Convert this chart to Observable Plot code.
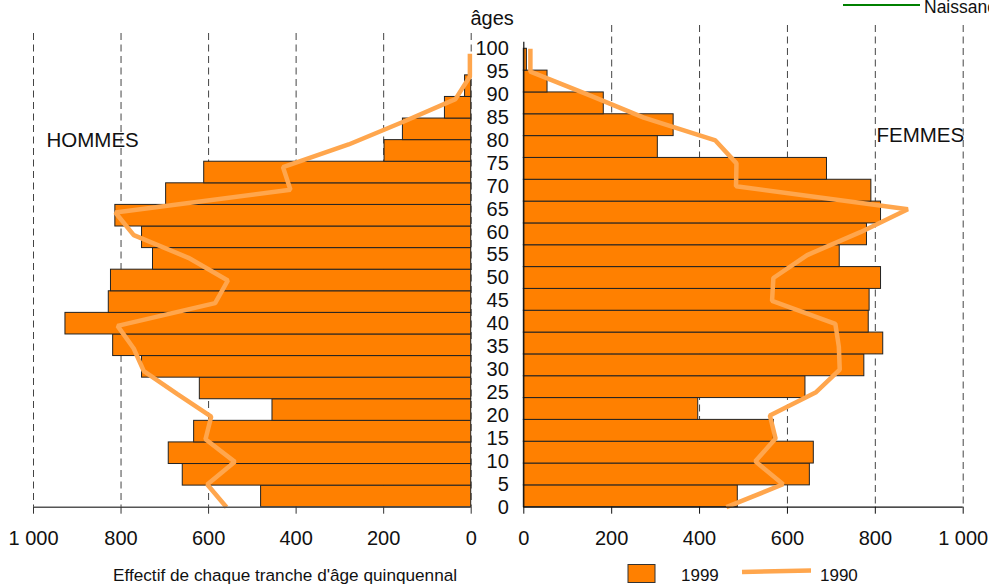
<!DOCTYPE html>
<html>
<head>
<meta charset="utf-8">
<script src="https://cdn.jsdelivr.net/npm/d3@7"></script>
<script src="https://cdn.jsdelivr.net/npm/@observablehq/plot@0.6"></script>
<style>
  html, body { margin: 0; padding: 0; background: white; }
  #root { position: relative; width: 989px; height: 585px; overflow: hidden; background: white;
          font-family: "Liberation Sans", Arial, sans-serif; }
  #root > svg { position: absolute; top: 0; }
</style>
</head>
<body>
<div id="root"></div>
<script>
// ---- Data ----
const ages = [0, 5, 10, 15, 20, 25, 30, 35, 40, 45, 50, 55, 60, 65, 70, 75, 80, 85, 90, 95, 100];
const hommes1999 = [480, 659, 691, 633, 454, 620, 752, 818, 927, 828, 823, 727, 752, 813, 697, 610, 198, 156, 60, 14, 0];
const femmes1999 = [487, 651, 660, 569, 397, 641, 775, 818, 785, 787, 813, 719, 781, 813, 791, 690, 305, 341, 182, 54, 7];
const hommes1990 = [559, 603, 540, 607, 594, 672, 748, 771, 808, 585, 556, 646, 771, 813, 413, 430, 280, 155, 36, 3, 3];
const femmes1990 = [461, 590, 527, 573, 560, 664, 719, 717, 709, 565, 568, 645, 766, 874, 483, 484, 436, 273, 146, 15, 15];
const xTicks = [0, 200, 400, 600, 800, 1000];
const ageTicks = ages;
const legendLabels = ["1999", "1990"];
const sideLabels = ["HOMMES", "FEMMES"];
const axisTitle = "âges";
const caption = "Effectif de chaque tranche d'âge quinquennal";
const extraLegend = "Naissances";

const ORANGE = "#ff8000";
const LINE = "#ffa64d";
const FONT = "'Liberation Sans', Arial, sans-serif";

const men = ages.map((age, i) => ({age, v99: hommes1999[i], v90: hommes1990[i]}));
const women = ages.map((age, i) => ({age, v99: femmes1999[i], v90: femmes1990[i]}));

const fr = d3.formatLocale({decimal: ",", thousands: "\u00a0", grouping: [3], currency: ["", " €"]});
const fmt = fr.format(",");

// 21 equal bands (one per age group) spanning the same height as the 0–100 line
const bandY1 = d => d.age * 20 / 21;
const bandY2 = d => (d.age + 5) * 20 / 21;

const root = document.getElementById("root");

// ---- Annotation layer (below plots) ----
const ann = d3.select(root).append("svg")
  .attr("width", 989).attr("height", 585)
  .style("left", "0px")
  .attr("font-family", FONT);

ann.append("text").attr("x", 46.5).attr("y", 146.7).attr("font-size", 20.5).attr("fill", "#111").text(sideLabels[0]);
ann.append("text").attr("x", 876.5).attr("y", 141.7).attr("font-size", 20.5).attr("fill", "#111").text(sideLabels[1]);
ann.append("text").attr("x", 470.5).attr("y", 25).attr("font-size", 20).attr("fill", "#111").text(axisTitle);
ann.append("text").attr("x", 113).attr("y", 580.5).attr("font-size", 17.2).attr("fill", "#111").text(caption);

// legend
ann.append("rect").attr("x", 628).attr("y", 564.5).attr("width", 27).attr("height", 18)
  .attr("fill", ORANGE).attr("stroke", "#333").attr("stroke-width", 1);
ann.append("text").attr("x", 681).attr("y", 580.5).attr("font-size", 17).attr("fill", "#111").text(legendLabels[0]);
ann.append("line").attr("x1", 742).attr("x2", 811).attr("y1", 572).attr("y2", 570.5)
  .attr("stroke", LINE).attr("stroke-width", 4.5);
ann.append("text").attr("x", 820).attr("y", 580.5).attr("font-size", 17).attr("fill", "#111").text(legendLabels[1]);

// partially visible legend at top right
ann.append("line").attr("x1", 843).attr("x2", 920).attr("y1", 5).attr("y2", 5)
  .attr("stroke", "#008000").attr("stroke-width", 2);
ann.append("text").attr("x", 924).attr("y", 12.5).attr("font-size", 17.5).attr("fill", "#111").text(extraLegend);

const baseStyle = {background: "transparent", overflow: "visible", fontFamily: FONT, fontSize: "20px", color: "#111"};

// ---- Left panel: HOMMES ----
const left = Plot.plot({
  width: 475, height: 585,
  marginLeft: 33, marginRight: 4.3, marginTop: 33, marginBottom: 78.3,
  style: baseStyle,
  x: {domain: [0, 1000], reverse: true},
  y: {domain: [0, 104.47], axis: null},
  marks: [
    Plot.ruleX(xTicks, {stroke: "#444", strokeDasharray: "7,4.5", strokeWidth: 1}),
    Plot.rect(men.filter(d => d.v99 > 0), {x1: 0, x2: "v99", y1: bandY1, y2: bandY2, fill: ORANGE, stroke: "#222", strokeWidth: 1}),
    Plot.line(men, {x: "v90", y: "age", stroke: LINE, strokeWidth: 4.5, strokeLinejoin: "miter", strokeLinecap: "butt"}),
    Plot.ruleY([0], {stroke: "#555", strokeWidth: 1.5}),
    Plot.axisX(xTicks, {anchor: "bottom", tickSize: 7, tickPadding: 17, tickFormat: fmt, fontSize: 20, stroke: "#333", label: null})
  ]
});
left.style.left = "0px";
root.appendChild(left);

// ---- Right panel: FEMMES ----
const right = Plot.plot({
  width: 514, height: 585,
  marginLeft: 48.3, marginRight: 26.3, marginTop: 25, marginBottom: 78.3,
  style: baseStyle,
  x: {domain: [0, 1000]},
  y: {domain: [0, 105.08]},
  marks: [
    Plot.ruleX(xTicks.filter(d => d > 0), {stroke: "#444", strokeDasharray: "7,4.5", strokeWidth: 1}),
    Plot.rect(women.filter(d => d.v99 > 0), {x1: 0, x2: "v99", y1: bandY1, y2: bandY2, fill: ORANGE, stroke: "#222", strokeWidth: 1}),
    Plot.line(women, {x: "v90", y: "age", stroke: LINE, strokeWidth: 4.5, strokeLinejoin: "miter", strokeLinecap: "butt"}),
    Plot.ruleX([0], {y1: 0, y2: 101.4, stroke: "#111", strokeWidth: 1.2}),
    Plot.ruleY([0], {stroke: "#111", strokeWidth: 1.2}),
    Plot.axisX(xTicks, {anchor: "bottom", tickSize: 7, tickPadding: 17, tickFormat: fmt, fontSize: 20, stroke: "#111", label: null}),
    Plot.axisY(ageTicks, {anchor: "left", tickSize: 0, tickPadding: 15, tickFormat: d => String(d), fontSize: 20, label: null})
  ]
});
right.style.left = "475px";
root.appendChild(right);
</script>
</body>
</html>
